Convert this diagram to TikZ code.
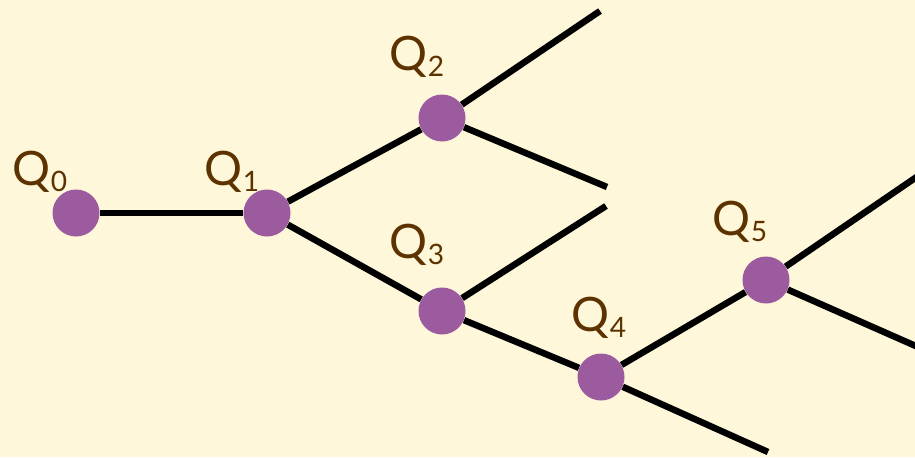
\documentclass[tikz,border=0pt]{standalone}
\usepackage{fontspec}
\setmainfont{Lato}
\usetikzlibrary{positioning}
\usepackage{xcolor}
\definecolor{cream}{HTML}{FEF7DA}
\definecolor{qpurple}{HTML}{9C5B9E}
\definecolor{qbrown}{HTML}{5C3300}
\newcommand{\qname}[1]{Q\raisebox{-0.25ex}{\fontsize{16}{16}\selectfont #1}}

\begin{document}
\begin{tikzpicture}[
    x=0.02cm, y=-0.02cm,
    state/.style={circle, fill=qpurple, minimum size=0.94cm, inner sep=0pt},
    qlabel/.style={text=qbrown, inner sep=0pt, font=\fontsize{27}{29}\selectfont},
    edge/.style={line width=3.7pt}
]

\fill[cream] (0,0) rectangle (915,457);
\useasboundingbox (0,0) rectangle (915,457);

% states
\node[state] (q0) at (76,213) {};
\node[state] (q1) at (267,213) {};
\node[state] (q2) at (442,118) {};
\node[state] (q3) at (442,311) {};
\node[state] (q4) at (601,377) {};
\node[state] (q5) at (766,280) {};

% labels
\node[qlabel] (l0) at (40,172) {\qname{0}};
\node[qlabel] (l1) at (232,172) {\qname{1}};
\node[qlabel] (l2) at (417,57) {\qname{2}};
\node[qlabel] (l3) at (417,245) {\qname{3}};
\node[qlabel] (l4) at (599,318) {\qname{4}};
\node[qlabel] (l5) at (740,222) {\qname{5}};

% open ends
\coordinate (e2a) at (600,11);
\coordinate (e2b) at (607,187);
\coordinate (e3a) at (606,206);
\coordinate (e4b) at (768,452);
\coordinate (e5a) at (918,176);
\coordinate (e5b) at (918,347);

\draw[edge] (q0) -- (q1);
\draw[edge] (q1) -- (q2);
\draw[edge] (q1) -- (q3);
\draw[edge] (q3) -- (q4);
\draw[edge] (q4) -- (q5);
\draw[edge] (q2) -- (e2a);
\draw[edge] (q2) -- (e2b);
\draw[edge] (q3) -- (e3a);
\draw[edge] (q4) -- (e4b);
\draw[edge] (q5) -- (e5a);
\draw[edge] (q5) -- (e5b);

\end{tikzpicture}
\end{document}
